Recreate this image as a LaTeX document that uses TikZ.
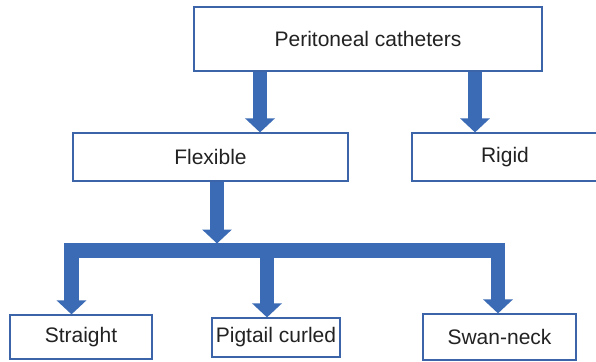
\documentclass[tikz,border=0pt]{standalone}
\usepackage{fontspec}
\setmainfont{Liberation Sans}
\usetikzlibrary{arrows.meta}
\definecolor{arrowblue}{RGB}{59,107,181}
\definecolor{boxblue}{RGB}{60,100,168}
\definecolor{txt}{RGB}{34,34,34}
\begin{document}
\begin{tikzpicture}[x=1pt,y=-1pt,
  box/.style={draw=boxblue, line width=1.2pt, fill=white, text=txt, inner sep=0pt,
    font=\fontsize{21}{24}\selectfont},
  fat/.style={draw=arrowblue, line width=14.5pt, -{Triangle[length=14pt,width=29pt]}},
  fatboth/.style={draw=arrowblue, line width=14.5pt, line join=miter,
    {Triangle[length=14pt,width=29pt]}-{Triangle[length=14pt,width=29pt]}},
]
\useasboundingbox (0,0) rectangle (596,361);
\clip (0,0) rectangle (596,361);
\fill[white] (0,0) rectangle (596,361);

\node[box, minimum width=348pt, minimum height=64pt] (top) at (368,39) {Peritoneal catheters};
\node[box, minimum width=275pt, minimum height=48pt] (flex) at (210.5,157) {Flexible};
\node[box, minimum width=186pt, minimum height=48pt] (rigid) at (505,157) {Rigid};
\node[box, minimum width=142pt, minimum height=44pt] (straight) at (81,337) {Straight};
\node[box, minimum width=128pt, minimum height=39pt] (pig) at (276,337.5) {Pigtail curled};
\node[box, minimum width=153pt, minimum height=46pt] (swan) at (499.5,337) {Swan-neck};

\coordinate (xa) at (260,0);
\coordinate (xb) at (475,0);
\coordinate (xf) at (217,0);
\coordinate (xl) at (71.5,0);
\coordinate (xm) at (267,0);
\coordinate (xr) at (498,0);
\coordinate (bartop) at (0,243.5);
\coordinate (bary) at (0,250.5);

\draw[fat] (top.south -| xa) -- (flex.north -| xa);
\draw[fat] (top.south -| xb) -- (rigid.north -| xb);
\draw[fat] (flex.south -| xf) -- (xf |- bartop);
\draw[fatboth] (straight.north -| xl) -- (xl |- bary) -- (xr |- bary) -- (swan.north -| xr);
\draw[fat] (xm |- bary) -- (pig.north -| xm);
\end{tikzpicture}
\end{document}
